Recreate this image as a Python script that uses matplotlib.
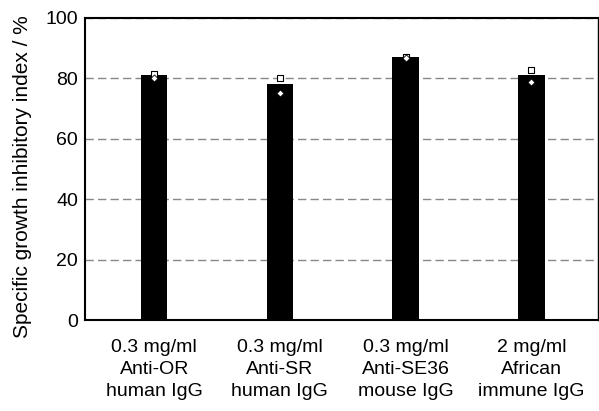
import matplotlib
matplotlib.use("Agg")
import matplotlib.pyplot as plt
import numpy as np

categories = ["0.3 mg/ml\nAnti-OR\nhuman IgG", "0.3 mg/ml\nAnti-SR\nhuman IgG",
              "0.3 mg/ml\nAnti-SE36\nmouse IgG", "2 mg/ml\nAfrican\nimmune IgG"]
means = [81.0, 78.0, 87.0, 81.0]
rep1 = [81.5, 80.2, 87.2, 82.8]   # open squares
rep2 = [80.0, 75.0, 86.8, 78.8]   # white diamonds

plt.rcParams['font.family'] = ['Liberation Sans', 'DejaVu Sans']

fig = plt.figure(figsize=(5.99, 4.11), dpi=100)
ax = fig.add_axes([85/599, 1-320/411, 513/599, 302/411])

x = np.arange(len(categories))
ax.set_axisbelow(True)
ax.yaxis.grid(True, linestyle=(0, (6, 3)), color='#888888', linewidth=1.0)
ax.bar(x, means, width=0.21, color='black', zorder=2)
ax.scatter(x, rep1, marker='s', s=18, facecolor='white', edgecolor='black', linewidth=0.8, zorder=3)
ax.scatter(x, rep2, marker='D', s=13, facecolor='white', edgecolor='black', linewidth=0.6, zorder=4)

ax.set_xlim(-0.55, 3.53)
ax.set_ylim(0, 100)
ax.set_yticks([0, 20, 40, 60, 80, 100])
ax.set_xticks(x)
ax.set_xticklabels(categories, fontsize=14, linespacing=1.38)
ax.tick_params(axis='y', labelsize=14, length=0, pad=5)
ax.tick_params(axis='x', length=0, pad=14)
for s in ax.spines.values():
    s.set_linewidth(1.5)
    s.set_color('black')
ax.spines['right'].set_linewidth(1.0)
ax.set_ylabel("Specific growth inhibitory index / %", fontsize=15)
ax.yaxis.set_label_coords(-0.104, 0.475)

fig.savefig("out.png", dpi=100)
